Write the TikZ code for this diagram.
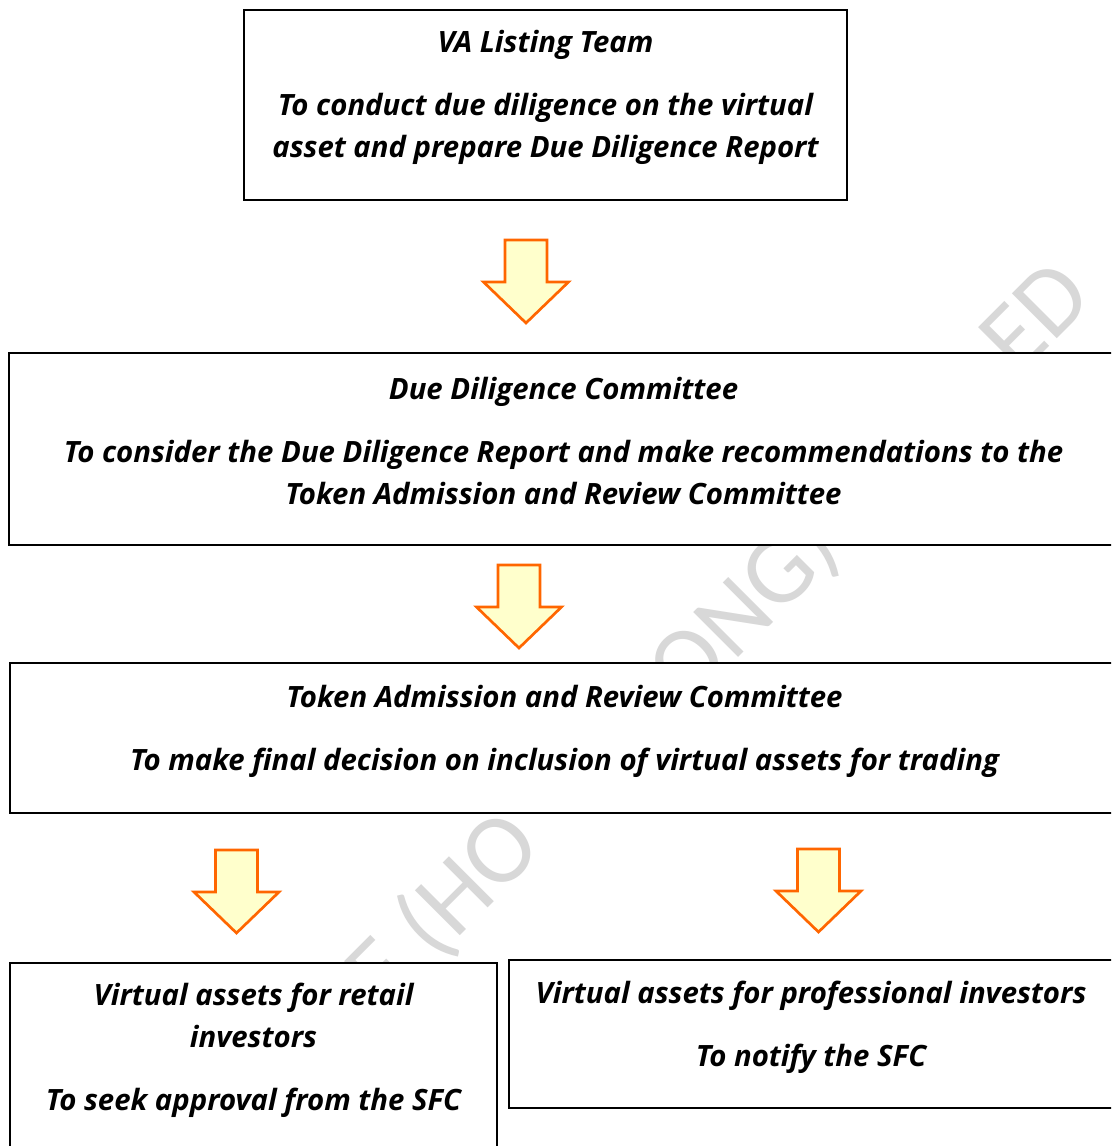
\documentclass[tikz,border=0pt]{standalone}
\usepackage{fontspec}
\setmainfont{Open Sans}
\newfontfamily\wmfont{Carlito}
\usetikzlibrary{calc}
\definecolor{arroworange}{HTML}{FF6600}
\definecolor{arrowfill}{HTML}{FFFFCC}
\definecolor{wmgray}{HTML}{D8D8D8}
\begin{document}
\begin{tikzpicture}[x=0.75pt,y=-0.75pt,
  stagebox/.style={draw=black,line width=1.4pt,fill=white,rectangle,inner sep=0pt},
  stagetext/.style={align=center,inner sep=0pt,
    font=\fontsize{22}{31.5}\selectfont\bfseries\itshape},
  flowarrow/.style={draw=arroworange,fill=arrowfill,line width=2pt,line join=miter},
  watermark/.style={text=wmgray,inner sep=0pt,rotate=45,
    font=\wmfont\fontsize{74.25}{80}\selectfont},
  pics/downarrow/.style={code={
    \draw[flowarrow] (-21,0) -- (21,0) -- (21,42) -- (42.5,42) -- (0,83)
      -- (-42.5,42) -- (-21,42) -- cycle;}},
]
\useasboundingbox[fill=white] (0,0) rectangle (1111,1146);
\clip (0,0) rectangle (1111,1146);

% background watermark (only the letters left uncovered by the boxes)
\node[watermark] (wm) at (719,635)
  {E (HO\phantom{NG K}ONG)\phantom{ LIMIT}ED};

% stage boxes
\node[stagebox,minimum width=452.25pt,minimum height=142.5pt] (b1) at (545.5,105) {};
\node[stagebox,minimum width=831.75pt,minimum height=144pt] (b2) at (563.5,449) {};
\node[stagebox,minimum width=831.75pt,minimum height=112.5pt] (b3) at (564.5,738) {};
\node[stagebox,minimum width=365.25pt,minimum height=141.75pt] (b4) at (253.5,1057.5) {};
\node[stagebox,minimum width=453pt,minimum height=111pt] (b5) at (811,1034) {};

% stage texts
\node[stagetext] (t1) at ($(b1.center)+(0,-7.5)$)
  {VA Listing Team\\[15.75pt]To conduct due diligence on the virtual\\asset and prepare Due Diligence Report};
\node[stagetext] (t2) at ($(b2.center)+(0,-8.5)$)
  {Due Diligence Committee\\[15.75pt]To consider the Due Diligence Report and make recommendations to the\\Token Admission and Review Committee};
\node[stagetext] (t3) at ($(b3.center)+(0,-7)$)
  {Token Admission and Review Committee\\[15.75pt]To make final decision on inclusion of virtual assets for trading};
\node[stagetext] (t4) at ($(b4.center)+(0,-7)$)
  {Virtual assets for retail\\investors\\[15.75pt]To seek approval from the SFC};
\node[stagetext] (t5) at ($(b5.center)+(0,-7)$)
  {Virtual assets for professional investors\\[15.75pt]To notify the SFC};

% block arrows between stages
\pic at (526,240) {downarrow};
\pic at (519,565) {downarrow};
\pic at (236.5,850) {downarrow};
\pic at (818.5,849) {downarrow};
\end{tikzpicture}
\end{document}
